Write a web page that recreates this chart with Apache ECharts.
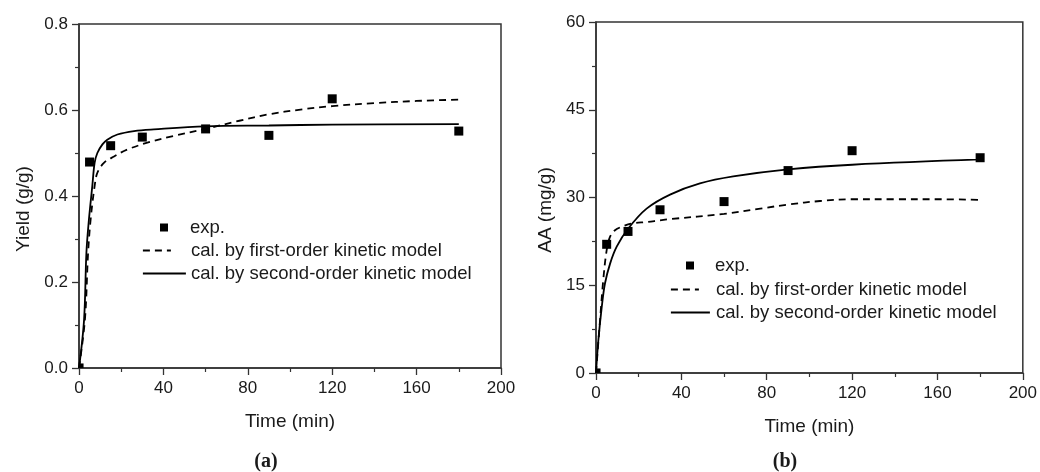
<!DOCTYPE html>
<html>
<head>
<meta charset="utf-8">
<script src="https://cdn.jsdelivr.net/npm/echarts@6/dist/echarts.min.js"></script>
<style>
  html, body { margin: 0; padding: 0; background: #fff; }
  #chart { width: 1040px; height: 472px; }
</style>
</head>
<body>
<div id="chart"></div>
<script>
// Experimental sampling times (min)
const timeExp = [0, 5, 15, 30, 60, 90, 120, 180];
// (a) yield, g/g
const yieldExp = [0, 0.479, 0.517, 0.537, 0.556, 0.541, 0.626, 0.551];
// (b) AA, mg/g
const aaExp = [0, 22.0, 24.2, 27.9, 29.3, 34.6, 38.0, 36.8];

// (a) model curves
const yieldFirstT = [0, 2.8, 4.3, 5.5, 7.4, 8.7, 11.8, 16.6, 22.9, 32.4, 45, 60, 76, 90, 105, 120, 140, 160, 180];
const yieldFirst  = [0, 0.112, 0.267, 0.345, 0.423, 0.454, 0.477, 0.492, 0.508, 0.524, 0.540, 0.556, 0.575, 0.590, 0.601, 0.609, 0.616, 0.621, 0.624];
const yieldSecondT = [0, 2.4, 3.5, 4.7, 6.3, 7.4, 8.7, 11.1, 13.4, 18.2, 26.1, 35.5, 60, 90, 120, 180];
const yieldSecond  = [0, 0.112, 0.267, 0.345, 0.423, 0.477, 0.500, 0.520, 0.531, 0.543, 0.551, 0.555, 0.562, 0.564, 0.566, 0.567];

// (b) model curves
const aaFirstT = [0, 1.9, 3.4, 5.0, 6.6, 8.9, 12.8, 17.5, 23.7, 30, 34.7, 60, 77, 90, 105, 120, 140, 160, 180];
const aaFirst  = [0, 9.05, 15.9, 21.0, 23.3, 24.4, 25.1, 25.6, 25.8, 26.1, 26.3, 27.2, 28.1, 28.8, 29.4, 29.7, 29.7, 29.7, 29.6];
const aaSecondT = [0, 1.1, 2.7, 4.2, 6.6, 9.7, 15.1, 23.7, 34.7, 48.7, 64.3, 90, 120, 180];
const aaSecond  = [0, 5.6, 11.3, 15.3, 18.7, 21.6, 24.7, 28.1, 30.5, 32.4, 33.6, 34.8, 35.6, 36.5];

// Axis ticks
const timeTicks = { min: 0, max: 200, interval: 40 };
const yieldTicks = { min: 0, max: 0.8, interval: 0.2 };
const aaTicks = { min: 0, max: 60, interval: 15 };

const NAME_EXP = 'exp.';
const NAME_FIRST = 'cal. by first-order kinetic model';
const NAME_SECOND = 'cal. by second-order kinetic model';

const FONT = 'Liberation Sans, Arial, sans-serif';
const AXIS_COLOR = '#333';
const TEXT_COLOR = '#1a1a1a';
const LINE_W = 1.8;

const zip = (xs, ys) => xs.map((x, i) => [x, ys[i]]);
// The origin marker sits in the corner of the frame; only its inner quarter shows.
const expData = (xs, ys) => xs.map((x, i) =>
  (x === 0 && ys[i] === 0)
    ? { value: [x, ys[i]], symbolSize: 4.5, symbolOffset: [2.3, -2.3] }
    : [x, ys[i]]);

function xAxisFor(gridIndex) {
  return {
    gridIndex, type: 'value', ...timeTicks,
    name: 'Time (min)', nameLocation: 'middle', nameGap: 44,
    nameTextStyle: { fontFamily: FONT, fontSize: 19, color: TEXT_COLOR },
    axisLine: { lineStyle: { color: AXIS_COLOR, width: 1.5 } },
    axisTick: { show: true, inside: false, length: 7, lineStyle: { color: AXIS_COLOR, width: 1.3 } },
    minorTick: { show: true, splitNumber: 2, length: 4, lineStyle: { color: AXIS_COLOR, width: 1.2 } },
    axisLabel: { fontFamily: FONT, fontSize: 17, color: TEXT_COLOR, margin: 12 },
    splitLine: { show: false }
  };
}
function yAxisFor(gridIndex, ticks, name, nameGap, shift, fmt) {
  return {
    gridIndex, type: 'value', ...ticks,
    name, nameLocation: 'middle', nameGap, nameRotate: 90,
    nameTextStyle: { fontFamily: FONT, fontSize: 19, color: TEXT_COLOR, padding: [0, shift, 0, 0] },
    axisLine: { show: true, lineStyle: { color: AXIS_COLOR, width: 1.5 } },
    axisTick: { show: true, inside: false, length: 7, lineStyle: { color: AXIS_COLOR, width: 1.3 } },
    minorTick: { show: true, splitNumber: 2, length: 4, lineStyle: { color: AXIS_COLOR, width: 1.2 } },
    axisLabel: { fontFamily: FONT, fontSize: 17, color: TEXT_COLOR, margin: 11, formatter: fmt },
    splitLine: { show: false }
  };
}

function seriesFor(idx, expY, fT, fY, sT, sY) {
  return [
    {
      name: NAME_FIRST, type: 'line', xAxisIndex: idx, yAxisIndex: idx,
      data: zip(fT, fY), showSymbol: false, symbol: 'none',
      smooth: 0.35,
      lineStyle: { color: '#000', width: LINE_W, type: [7, 5] },
      itemStyle: { color: '#000' }, z: 2
    },
    {
      name: NAME_SECOND, type: 'line', xAxisIndex: idx, yAxisIndex: idx,
      data: zip(sT, sY), showSymbol: false, symbol: 'none',
      smooth: 0.35,
      lineStyle: { color: '#000', width: LINE_W, type: 'solid' },
      itemStyle: { color: '#000' }, z: 3
    },
    {
      name: NAME_EXP, type: 'scatter', xAxisIndex: idx, yAxisIndex: idx,
      data: expData(timeExp, expY), symbol: 'rect', symbolSize: 9,
      itemStyle: { color: '#000', opacity: 1 }, z: 4
    }
  ];
}

function legendsFor(cfg) {
  const text = (pad) => ({ fontFamily: FONT, fontSize: 18.5, color: TEXT_COLOR, padding: [0, 0, 0, pad] });
  return [
    { data: [NAME_EXP], left: cfg.expLeft, top: cfg.expTop, padding: 0, icon: 'rect',
      itemWidth: 8, itemHeight: 8, textStyle: text(cfg.expPad), selectedMode: false,
      itemStyle: { color: '#000', opacity: 1 } },
    { data: [NAME_FIRST], left: cfg.lineLeft, top: cfg.firstTop, padding: 0,
      itemWidth: 28, itemHeight: 12, textStyle: text(cfg.firstPad), selectedMode: false,
      itemStyle: { opacity: 0 }, lineStyle: { width: LINE_W } },
    { data: [NAME_SECOND], left: cfg.lineLeft, top: cfg.secondTop, padding: 0,
      itemWidth: cfg.solidWidth, itemHeight: 12, textStyle: text(cfg.secondPad), selectedMode: false,
      itemStyle: { opacity: 0 }, lineStyle: { width: LINE_W } }
  ];
}

const option = {
  backgroundColor: '#fff',
  animation: false,
  grid: [
    { left: 79, top: 24, width: 422, height: 344, show: true, borderColor: AXIS_COLOR, borderWidth: 1.5, containLabel: false },
    { left: 596, top: 22, width: 427, height: 351, show: true, borderColor: AXIS_COLOR, borderWidth: 1.5, containLabel: false }
  ],
  xAxis: [xAxisFor(0), xAxisFor(1)],
  yAxis: [
    yAxisFor(0, yieldTicks, 'Yield (g/g)', 46, 26, (v) => v.toFixed(1)),
    yAxisFor(1, aaTicks, 'AA (mg/g)', 41, 25, (v) => String(v))
  ],
  legend: [
    ...legendsFor({ expLeft: 160, expTop: 218, expPad: 17, lineLeft: 142, firstTop: 241, firstPad: 15,
                    secondTop: 264, solidWidth: 43, secondPad: 0 }),
    ...legendsFor({ expLeft: 686, expTop: 256, expPad: 16, lineLeft: 670, firstTop: 280, firstPad: 12,
                    secondTop: 303, solidWidth: 39, secondPad: 1 })
  ],
  graphic: [
    { type: 'text', x: 266, y: 462, style: { text: '(a)', font: 'bold 20px "Liberation Serif", serif',
      fill: TEXT_COLOR, align: 'center', verticalAlign: 'middle' } },
    { type: 'text', x: 785, y: 462, style: { text: '(b)', font: 'bold 20px "Liberation Serif", serif',
      fill: TEXT_COLOR, align: 'center', verticalAlign: 'middle' } }
  ],
  series: [
    ...seriesFor(0, yieldExp, yieldFirstT, yieldFirst, yieldSecondT, yieldSecond),
    ...seriesFor(1, aaExp, aaFirstT, aaFirst, aaSecondT, aaSecond)
  ]
};

const chart = echarts.init(document.getElementById('chart'), null, { renderer: 'canvas' });
chart.setOption(option);
</script>
</body>
</html>
